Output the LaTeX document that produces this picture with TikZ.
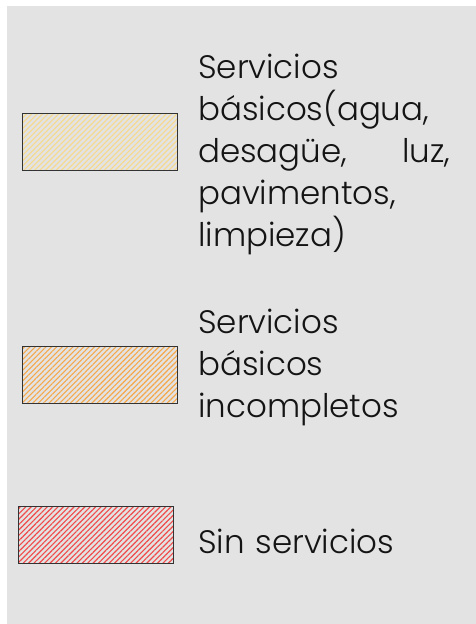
\documentclass[tikz,border=0pt]{standalone}
\usepackage{fontspec}
\setmainfont{Poppins}[UprightFont=* Light]
\usetikzlibrary{patterns.meta, positioning}

\definecolor{panelgrey}{HTML}{E3E3E3}
\definecolor{hatchyellow}{HTML}{F6D98A}
\definecolor{hatchorange}{HTML}{F5A84A}
\definecolor{hatchred}{HTML}{F04A4A}

\begin{document}
\begin{tikzpicture}[
    x=1pt, y=-1pt,
    keybox/.style={draw=black!80, line width=1pt, minimum width=155pt, minimum height=57pt, inner sep=0pt},
    hatched/.style={pattern={Lines[angle=45, distance=3.8pt, line width=1.1pt]}, pattern color=#1},
    keytext/.style={anchor=base west, align=left, text width=252pt, inner sep=0pt,
                    font=\fontsize{32.5}{42}\selectfont, text=black!92},
]
% ============================================================
% frame and grey panel
% ============================================================
\useasboundingbox (0,0) rectangle (476,624);
\fill[panelgrey] (7,6) rectangle (476,624);
% ============================================================
% key 1: complete services
% ============================================================
\node[keybox, hatched=hatchyellow] (boxfull) at (99.5, 141.5) {};
\node[keytext] (txtfull) at (198, 78) {Servicios\\
    básicos(agua,\\
    desagüe,\hfill luz,\\
    pavimentos,\\
    limpieza)};
% ============================================================
% key 2: incomplete services
% ============================================================
\node[keybox, hatched=hatchorange] (boxpart) at (99.5, 374.5) {};
\node[keytext] (txtpart) at (198, 333) {Servicios\\
    básicos\\
    incompletos};
% ============================================================
% key 3: no services
% ============================================================
\node[keybox, hatched=hatchred] (boxnone) at (95.5, 534.5) {};
\node[keytext] (txtnone) at (198, 553) {Sin servicios};
\end{tikzpicture}
\end{document}
